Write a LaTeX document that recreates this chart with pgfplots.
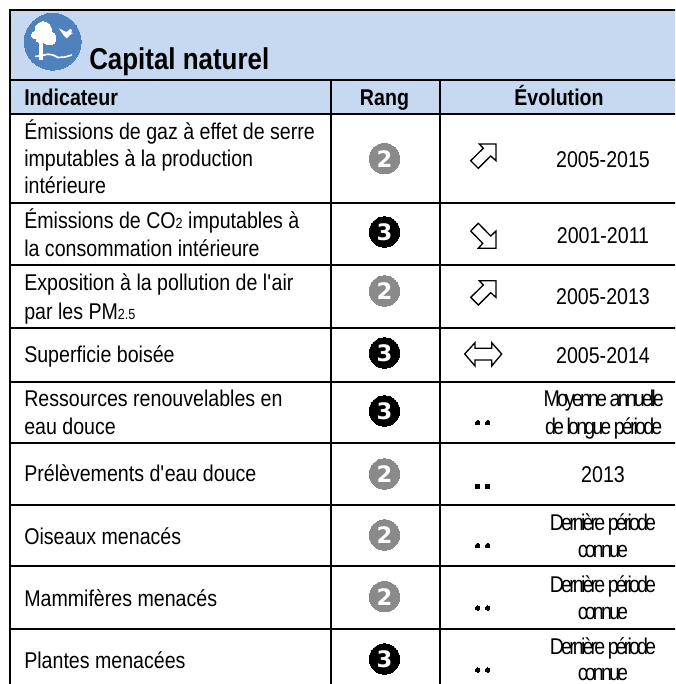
\documentclass[border=0pt]{standalone}
\usepackage{pgfplots}
\pgfplotsset{compat=1.18}
\usepackage{fontspec}
\setmainfont[FakeStretch=0.86]{Liberation Sans}
\newfontfamily\tight[LetterSpace=-12.5,FakeStretch=0.86]{Liberation Sans}
\newfontfamily\rankfont{DejaVu Sans}
\definecolor{headblue}{HTML}{C6D9F1}
\definecolor{iconblue}{HTML}{4F81BD}
\definecolor{rankgrey}{HTML}{8A8A8A}
\newcommand\body{\fontsize{17.1}{20}\selectfont}
\newcommand\tl[3]{\node[anchor=base west,inner sep=0pt,text=black] at (axis cs:#1,#2){\body #3};}
\newcommand\tc[3]{\node[anchor=base,inner sep=0pt,text=black] at (axis cs:#1,#2){\body #3};}
\newcommand\tg[3]{\node[anchor=base,inner sep=0pt,text=black] at (axis cs:#1,#2){\body\tight #3};}
\newcommand\sub[1]{{\fontsize{11}{12}\selectfont\raisebox{-0.5pt}{#1}}}
\newcommand\hl[3]{\addplot[black,line width=1.5pt,line cap=rect] coordinates {(#2,#1) (#3,#1)};}
\newcommand\vl[3]{\addplot[black,line width=1.5pt,line cap=rect] coordinates {(#1,#2) (#1,#3)};}
\newcommand\blob[3]{\addplot[only marks,mark=*,mark size=#1pt,mark options={fill=white,draw=white,line width=0pt}] coordinates {(#2,#3)};}
\begin{document}
\begin{tikzpicture}
\useasboundingbox (0,0) rectangle (506.25pt,513pt);
\begin{axis}[
  at={(0,0)}, anchor=south west,
  scale only axis, width=506.25pt, height=513pt,
  xmin=0, xmax=675, ymin=0, ymax=684, y dir=reverse,
  hide axis, clip=true, clip mode=individual,
]
% header band
\addplot[fill=headblue,draw=none] coordinates {(10,10) (675,10) (675,114.5) (10,114.5)} -- cycle;
% icon
\addplot[only marks,mark=*,mark size=21.3pt,mark options={fill=iconblue,draw=iconblue,line width=0pt}] coordinates {(52.7,41.7)};
\blob{6.2}{43.3}{30}
\blob{5}{49.3}{38.3}
\blob{3}{35.5}{35}
\blob{3.5}{40.5}{38.3}
\addplot[white,line width=2.3pt] coordinates {(41,40) (41,60.5)};
\addplot[white,line width=1.2pt] coordinates {(35,56.5) (42,55.5) (48,54.2) (53,55) (58,57.5) (65,57) (72,55)};
\addplot[fill=white,draw=none] coordinates {(59,28.5) (64,31) (67,32) (70,29) (72,30) (71,33) (73,33) (69,36) (67,38.5) (64,36) (62,33)} -- cycle;
% rows
\hl{10}{10}{675}
\hl{80}{10}{675}
\hl{114.5}{10}{675}
\hl{203.5}{10}{675}
\hl{265}{10}{675}
\hl{327.7}{10}{675}
\hl{381.7}{10}{675}
\hl{442.6}{10}{675}
\hl{504.7}{10}{675}
\hl{566}{10}{675}
\hl{628.7}{10}{675}
\vl{10}{10}{684}
\vl{330.5}{80}{684}
\vl{439.7}{80}{684}
% title and header
\node[anchor=base west,inner sep=0pt] at (axis cs:89,69.3){\fontsize{22.6}{26}\selectfont\bfseries Capital naturel};
\node[anchor=base west,inner sep=0pt] at (axis cs:24,105.7){\fontsize{17.1}{20}\selectfont\bfseries Indicateur};
\node[anchor=base,inner sep=0pt] at (axis cs:384.5,105.7){\fontsize{17.1}{20}\selectfont\bfseries Rang};
\node[anchor=base,inner sep=0pt] at (axis cs:559,105.7){\fontsize{17.1}{20}\selectfont\bfseries Évolution};
% indicators
\tl{24}{139.3}{Émissions de gaz à effet de serre}
\tl{24}{166.7}{imputables à la production}
\tl{24}{194}{intérieure}
\tl{24}{228}{Émissions de CO\sub{2} imputables à}
\tl{24}{256}{la consommation intérieure}
\tl{24}{290.7}{Exposition à la pollution de l\textquotesingle air}
\tl{24}{319.3}{par les PM\sub{2.5}}
\tl{24}{362.7}{Superficie boisée}
\tl{24}{406}{Ressources renouvelables en}
\tl{24}{434}{eau douce}
\tl{24}{481}{Prélèvements d\textquotesingle eau douce}
\tl{24}{544}{Oiseaux menacés}
\tl{24}{606}{Mammifères menacés}
\tl{24}{668}{Plantes menacées}
% rank markers
\addplot[only marks,mark=*,mark size=11.4pt,mark options={fill=rankgrey,draw=rankgrey,line width=0pt},
  nodes near coords,point meta=explicit symbolic,
  every node near coord/.append style={anchor=center,inner sep=0pt,text=white,font=\rankfont\bfseries\fontsize{17}{18}\selectfont}]
  table[meta=rang] {
x y rang
384.5 158.7 2
384.5 291 2
384.5 474 2
384.5 535 2
384.5 596.7 2
};
\addplot[only marks,mark=*,mark size=11.4pt,mark options={fill=black,draw=black,line width=0pt},
  nodes near coords,point meta=explicit symbolic,
  every node near coord/.append style={anchor=center,inner sep=0pt,text=white,font=\rankfont\bfseries\fontsize{17}{18}\selectfont}]
  table[meta=rang] {
x y rang
384.5 232 3
384.5 353 3
384.5 411 3
384.5 659 3
};
% evolution arrows
\addplot[fill=white,draw=black,line width=1pt] coordinates {(496,144) (479.3,144) (483.3,148.3) (470.7,160.7) (478.3,168.3) (490.7,156) (496,160.7)} -- cycle;
\addplot[fill=white,draw=black,line width=1pt] coordinates {(496,248.3) (478.3,248.3) (482.7,243.3) (470.7,231) (478.3,223.3) (490.7,236) (496,231)} -- cycle;
\addplot[fill=white,draw=black,line width=1pt] coordinates {(496,280.7) (479.3,280.7) (483.3,285) (470.7,297.4) (478.3,305) (490.7,292.7) (496,297.4)} -- cycle;
\addplot[fill=white,draw=black,line width=1pt] coordinates {(464.7,354) (475,342.7) (475,348.3) (491.7,348.3) (491.7,342.7) (501.7,354) (491.7,366) (491.7,360) (475,360) (475,366)} -- cycle;
% missing-data dots
\addplot[only marks,mark=*,mark size=1.7pt,mark options={fill=black,draw=black,line width=0pt}] coordinates {
(477.7,422.7) (487.7,422.7) (477.7,545.7) (487.7,545.7) (477.7,608) (487.7,608) (477.7,670) (487.7,670)};
\addplot[only marks,mark=square*,mark size=1.6pt,mark options={fill=black,draw=black,line width=0pt}] coordinates {(477.7,486.7) (487.7,486.7)};
% periods
\tc{603}{167.7}{2005-2015}
\tc{603}{243.3}{2001-2011}
\tc{603}{304.3}{2005-2013}
\tc{603}{363.3}{2005-2014}
\tg{603.7}{406}{Moyenne annuelle}
\tg{603.7}{434}{de longue période}
\tc{603}{482.7}{2013}
\tg{603}{530.7}{Dernière période}
\tg{603}{557.3}{connue}
\tg{603}{592.7}{Dernière période}
\tg{603}{619}{connue}
\tg{603}{654}{Dernière période}
\tg{603}{680}{connue}
\end{axis}
\end{tikzpicture}
\end{document}
